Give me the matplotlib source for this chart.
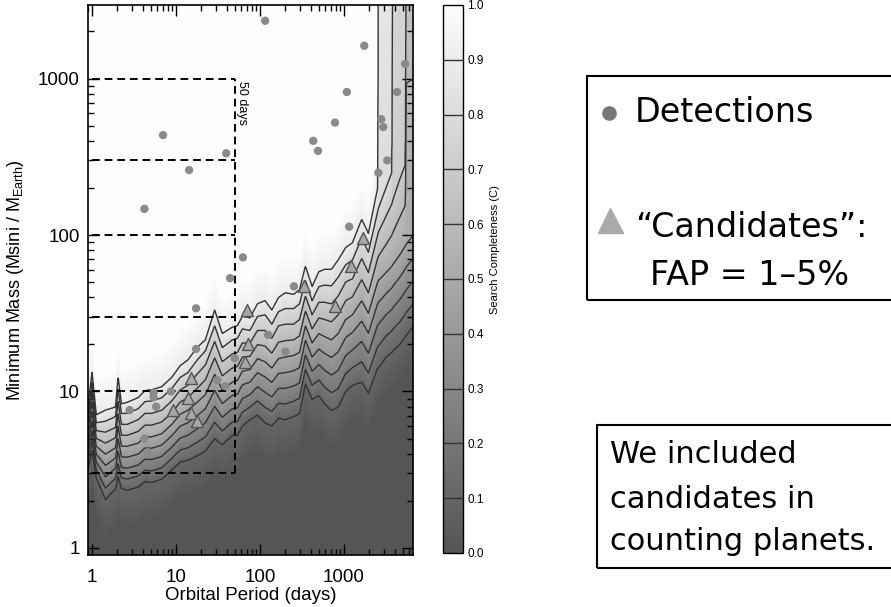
import numpy as np
import matplotlib
matplotlib.use('Agg')
import matplotlib.pyplot as plt
from matplotlib.colors import LinearSegmentedColormap
from matplotlib.patches import Rectangle
from matplotlib.lines import Line2D

plt.rcParams['font.family'] = ['Liberation Sans', 'DejaVu Sans']
plt.rcParams['mathtext.fontset'] = 'custom'
plt.rcParams['mathtext.rm'] = 'Liberation Sans'

# completeness contours: log10(mass) where C reaches each level,
# at these log10(period) nodes (4.0+ means the contour has left the top of the plot)
node_logp = [-0.06, 0.00, 0.05, 0.16, 0.28, 0.31, 0.35, 0.42, 0.55, 0.63, 0.71, 0.83, 0.95,
             1.05, 1.14, 1.25, 1.35, 1.46, 1.55, 1.67, 1.73, 1.79, 1.88, 1.97, 2.06, 2.14,
             2.22, 2.30, 2.40, 2.47, 2.54, 2.62, 2.70, 2.77, 2.85, 2.93, 3.02, 3.10, 3.21,
             3.29, 3.40, 3.41, 3.50, 3.57, 3.58, 3.66, 3.73, 3.74, 3.83]
c01 = [0.48, 0.62, 0.45, 0.31, 0.38, 0.46, 0.38, 0.37, 0.39, 0.425, 0.42, 0.44, 0.50,
       0.55, 0.56, 0.59, 0.62, 0.70, 0.66, 0.72, 0.72, 0.78, 0.82, 0.85, 0.80, 0.78,
       0.83, 0.82, 0.84, 0.86, 1.05, 0.95, 0.975, 0.92, 0.88, 0.90, 1.00, 1.04, 1.06,
       0.99, 1.15, 1.15, 1.22, 1.25, 1.26, 1.30, 1.35, 1.36, 1.42]
c05 = [0.67, 0.87, 0.65, 0.60, 0.64, 0.78, 0.65, 0.65, 0.67, 0.71, 0.71, 0.73, 0.79,
       0.855, 0.88, 0.93, 0.98, 1.11, 1.01, 1.06, 1.07, 1.13, 1.14, 1.21, 1.19, 1.15,
       1.21, 1.22, 1.23, 1.25, 1.42, 1.31, 1.37, 1.35, 1.33, 1.37, 1.46, 1.49, 1.58,
       1.50, 1.70, 1.71, 1.76, 1.80, 1.81, 1.87, 1.93, 1.94, 2.00]
c07 = [0.76, 1.00, 0.75, 0.74, 0.77, 0.94, 0.79, 0.79, 0.82, 0.86, 0.86, 0.88, 0.94,
       1.01, 1.04, 1.11, 1.17, 1.32, 1.19, 1.24, 1.25, 1.31, 1.31, 1.39, 1.39, 1.34,
       1.42, 1.43, 1.43, 1.46, 1.61, 1.49, 1.57, 1.57, 1.56, 1.61, 1.70, 1.72, 1.85,
       1.76, 2.00, 2.02, 2.12, 2.20, 2.22, 2.35, 2.45, 4.00, 4.00]
c08 = [0.80, 1.06, 0.80, 0.81, 0.84, 1.02, 0.86, 0.86, 0.89, 0.935, 0.94, 0.96, 1.02,
       1.09, 1.12, 1.20, 1.26, 1.42, 1.28, 1.33, 1.34, 1.40, 1.39, 1.48, 1.49, 1.43,
       1.51, 1.53, 1.53, 1.56, 1.71, 1.58, 1.67, 1.68, 1.675, 1.73, 1.81, 1.84, 1.98,
       1.89, 2.15, 2.17, 2.30, 2.40, 4.20, 4.20, 4.20, 4.20, 4.20]
c09 = [0.85, 1.12, 0.85, 0.88, 0.90, 1.09, 0.92, 0.93, 0.96, 1.005, 1.01, 1.03, 1.09,
       1.165, 1.20, 1.28, 1.33, 1.52, 1.37, 1.41, 1.42, 1.48, 1.47, 1.56, 1.58, 1.52,
       1.60, 1.63, 1.62, 1.65, 1.80, 1.67, 1.765, 1.78, 1.78, 1.84, 1.92, 1.95, 2.10,
       2.01, 2.30, 4.40, 4.40, 4.40, 4.40, 4.40, 4.40, 4.40, 4.40]

# detections (circles)
det_period = [115, 1740, 5330, 1080, 4270, 7.0, 780, 430, 490, 2770, 2930, 39.5, 14.3,
              3270, 2560, 4.2, 1150, 62.5, 44, 253, 17.3, 17.3, 125, 200, 50, 31, 38.5,
              5.4, 5.4, 8.7, 5.8, 2.8, 4.2, 4.6]
det_mass = [2340, 1620, 1240, 820, 820, 435, 523, 400, 345, 550, 490, 333, 260,
            300, 250, 147, 113, 72, 53, 47, 34, 18.7, 23, 18, 16.3, 11.8, 10.8,
            9.8, 9.2, 10, 8.0, 7.6, 5.0, 4.1]

# candidates (triangles)
cand_period = [1700, 1210, 333, 69, 780, 72, 66, 15, 13.8, 9.3, 15, 17.8]
cand_mass = [96, 63, 47, 33, 35, 20, 15.4, 12.2, 9.1, 7.6, 7.3, 6.5]

box_masses = [1000, 300, 100, 30, 10, 3]
cbar_ticks = [0.0, 0.1, 0.2, 0.3, 0.4, 0.5, 0.6, 0.7, 0.8, 0.9, 1.0]

# build completeness map
lp = np.linspace(np.log10(0.87), np.log10(6700), 900)
lm = np.linspace(np.log10(0.88), np.log10(3000), 700)
C = np.zeros((len(lm), len(lp)))
for j, x in enumerate(lp):
    a01 = np.interp(x, node_logp, c01)
    a05 = np.interp(x, node_logp, c05)
    a07 = np.interp(x, node_logp, c07)
    a08 = np.interp(x, node_logp, c08)
    a09 = np.interp(x, node_logp, c09)
    anchors = [a01 - 0.25, a01, a05, a07, a08, a09, a09 + 0.25]
    C[:, j] = np.interp(lm, anchors, [0.0, 0.1, 0.5, 0.7, 0.8, 0.9, 1.0])

cmap = LinearSegmentedColormap.from_list('grey', ['#555555', '#fdfdfd'])

fig = plt.figure(figsize=(8.91, 6.07), dpi=100)
ax = fig.add_axes([0.0988, 0.0857, 0.3648, 0.906])
cax = fig.add_axes([0.4972, 0.089, 0.0224, 0.9028])

P, M = 10 ** lp, 10 ** lm
mesh = ax.pcolormesh(P, M, C, cmap=cmap, vmin=0, vmax=1, shading='auto', rasterized=True)
cs = ax.contour(P, M, C, levels=cbar_ticks[1:-1], colors='#333333', linewidths=1.0)

for m in box_masses:
    ax.plot([1, 50], [m, m], color='black', ls='--', dashes=(4, 2.5), lw=1.4)
ax.plot([50, 50], [3, 1000], color='black', ls='--', dashes=(4, 2.5), lw=1.4)
ax.text(61, 700, '50 days', rotation=270, fontsize=9, ha='center', va='center')

ax.scatter(det_period, det_mass, s=36, color='#8a8a8a', edgecolors='none', zorder=5)
ax.scatter(cand_period, cand_mass, s=75, marker='^', color='#a8a8a8',
           edgecolors='#555555', linewidths=1.0, zorder=5)

ax.set_xscale('log')
ax.set_yscale('log')
ax.set_xlim(0.896, 6630)
ax.set_ylim(0.902, 2950)
ax.set_xticks([1, 10, 100, 1000])
ax.set_xticklabels(['1', '10', '100', '1000'])
ax.set_yticks([1, 10, 100, 1000])
ax.set_yticklabels(['1', '10', '100', '1000'])
ax.tick_params(which='both', direction='in', top=True, right=True, labelsize=13.5)
ax.tick_params(which='major', length=8, width=1)
ax.tick_params(which='minor', length=4, width=1)
ax.tick_params(axis='x', pad=10)
ax.tick_params(axis='y', pad=6)
for sp in ax.spines.values():
    sp.set_linewidth(1.2)
ax.set_xlabel('Orbital Period (days)', fontsize=13.5, labelpad=1)
ax.set_ylabel('Minimum Mass (Msini / M$_{\\mathrm{Earth}}$)', fontsize=13)
ax.yaxis.set_label_coords(-0.19, 0.5)

cbar = fig.colorbar(mesh, cax=cax, ticks=cbar_ticks, format='%.1f')
cbar.add_lines(cs)
cbar.ax.tick_params(labelsize=8.5, length=0, pad=3)
cbar.outline.set_linewidth(1.0)
fig.text(495 / 891, 1 - 250 / 607, 'Search Completeness (C)', rotation=90,
         fontsize=8, ha='center', va='center')

# legend / note boxes
fig.add_artist(Rectangle((0.6588, 0.5058), 0.3434, 0.369, transform=fig.transFigure,
                         fill=False, ec='black', lw=1.5))
fig.add_artist(Line2D([0.6835], [0.8138], marker='o', markersize=9.5, color='#777777',
                      transform=fig.transFigure))
fig.text(0.7127, 0.799, 'Detections', fontsize=24, family='DejaVu Sans', va='baseline')
fig.add_artist(Line2D([0.6846], [0.6376], marker='^', markersize=18, color='#aaaaaa',
                      transform=fig.transFigure))
fig.text(0.7127, 0.6096, '\u201cCandidates\u201d:', fontsize=24, family='DejaVu Sans',
         va='baseline')
fig.text(0.7295, 0.5305, 'FAP = 1\u20135%', fontsize=24, family='DejaVu Sans', va='baseline')

fig.add_artist(Rectangle((0.670, 0.0642), 0.3322, 0.2356, transform=fig.transFigure,
                         fill=False, ec='black', lw=1.5))
fig.text(0.6846, 1 - 463 / 607, 'We included', fontsize=22, family='DejaVu Sans', va='baseline')
fig.text(0.6846, 1 - 508 / 607, 'candidates in', fontsize=22, family='DejaVu Sans', va='baseline')
fig.text(0.6846, 1 - 550 / 607, 'counting planets.', fontsize=22, family='DejaVu Sans',
         va='baseline')

fig.savefig('out.png', dpi=100)
